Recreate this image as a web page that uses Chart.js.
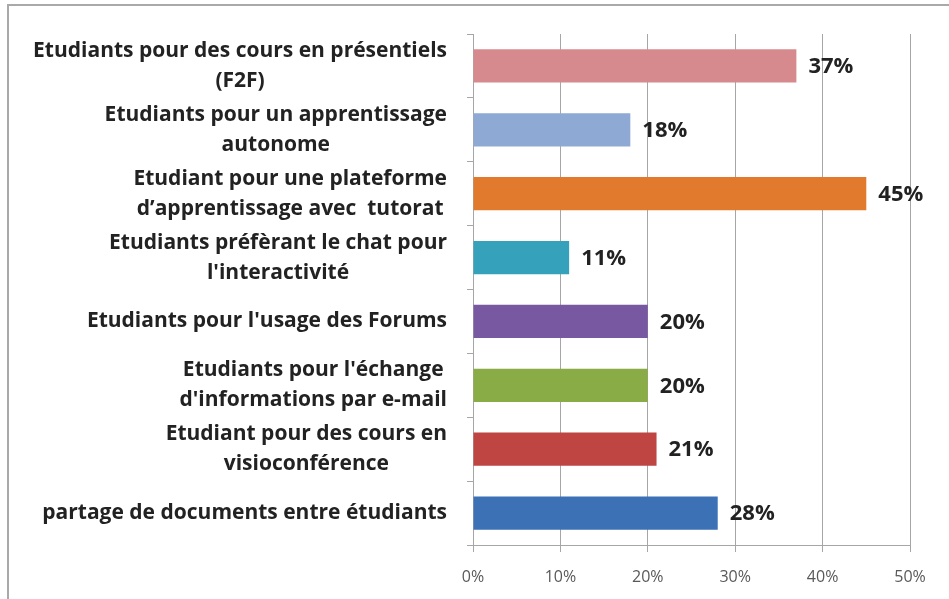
<!DOCTYPE html>
<html>
<head>
<meta charset="utf-8">
<script src="https://cdn.jsdelivr.net/npm/chart.js@4"></script>
<style>
  body { margin: 0; background: #fff; overflow: hidden; }
  #frame {
    position: absolute; left: 7px; top: 4px; width: 980px; height: 640px;
    border-left: 2px solid #a9a9a9; border-top: 2px solid #a9a9a9;
  }
  #myChart { position: absolute; left: 0; top: 0; }
</style>
</head>
<body>
<div id="frame"></div>
<canvas id="myChart" width="949" height="599"></canvas>
<script>
// categories, top to bottom, split in lines like the original
const categories = [
  ["Etudiants pour des cours en présentiels", "(F2F)"],
  ["Etudiants pour un apprentissage", "autonome"],
  ["Etudiant pour une plateforme", "d’apprentissage avec  tutorat"],
  ["Etudiants préfèrant le chat pour", "l'interactivité"],
  ["Etudiants pour l'usage des Forums"],
  ["Etudiants pour l'échange", "d'informations par e-mail"],
  ["Etudiant pour des cours en", "visioconférence"],
  ["partage de documents entre étudiants"],
];
const values = [37, 18, 45, 11, 20, 20, 21, 28];
const barColors = ["#D78A8D", "#8FA9D5", "#E27A2E", "#35A1BB", "#7859A1", "#89AC47", "#BE4542", "#3D71B6"];
const xTicks = [0, 10, 20, 30, 40, 50];

const labelFont = "bold 21px 'Open Sans'";
const lineH = 30;

const yLabels = {
  id: "yLabels",
  afterDraw(chart) {
    const ctx = chart.ctx;
    const y = chart.scales.y;
    const right = y.right - 26;
    ctx.save();
    ctx.font = labelFont;
    ctx.fillStyle = "#222";
    ctx.textAlign = "center";
    ctx.textBaseline = "middle";
    categories.forEach((lines, i) => {
      const w = Math.max(...lines.map(l => ctx.measureText(l).width));
      const cx = right - w / 2;
      const cy = y.getPixelForValue(i);
      lines.forEach((l, j) => {
        ctx.fillText(l, cx, cy + (j - (lines.length - 1) / 2) * lineH);
      });
    });
    ctx.restore();
  }
};

const valueLabels = {
  id: "valueLabels",
  afterDatasetsDraw(chart) {
    const ctx = chart.ctx;
    const meta = chart.getDatasetMeta(0);
    ctx.save();
    ctx.font = "bold 22px 'Open Sans'";
    ctx.fillStyle = "#222";
    ctx.textAlign = "left";
    ctx.textBaseline = "middle";
    meta.data.forEach((bar, i) => {
      ctx.fillText(values[i] + "%", bar.x + 12, bar.y + 1);
    });
    ctx.restore();
  }
};

new Chart(document.getElementById("myChart"), {
  type: "bar",
  data: {
    labels: categories,
    datasets: [{
      data: values,
      backgroundColor: barColors,
      borderWidth: 0,
      categoryPercentage: 1,
      barPercentage: 0.52,
    }]
  },
  options: {
    indexAxis: "y",
    responsive: false,
    animation: false,
    layout: { padding: { top: 34, right: 39, left: 0, bottom: 0 } },
    plugins: { legend: { display: false }, tooltip: { enabled: false } },
    scales: {
      x: {
        min: 0,
        max: 50,
        afterBuildTicks: (scale) => { scale.ticks = xTicks.map(v => ({ value: v })); },
        afterFit: (scale) => { scale.height = 54; },
        ticks: {
          color: "#595959",
          font: { family: "'Open Sans'", size: 16 },
          padding: 16,
          callback: (v) => v + "%",
        },
        grid: { color: "#a6a6a6", tickLength: 7 },
        border: { color: "#a6a6a6" },
      },
      y: {
        afterFit: (scale) => { scale.width = 473; },
        ticks: { display: false },
        grid: { drawOnChartArea: false, color: "#a6a6a6", tickLength: 6 },
        border: { color: "#a6a6a6" },
      }
    }
  },
  plugins: [yLabels, valueLabels]
});
</script>
</body>
</html>
